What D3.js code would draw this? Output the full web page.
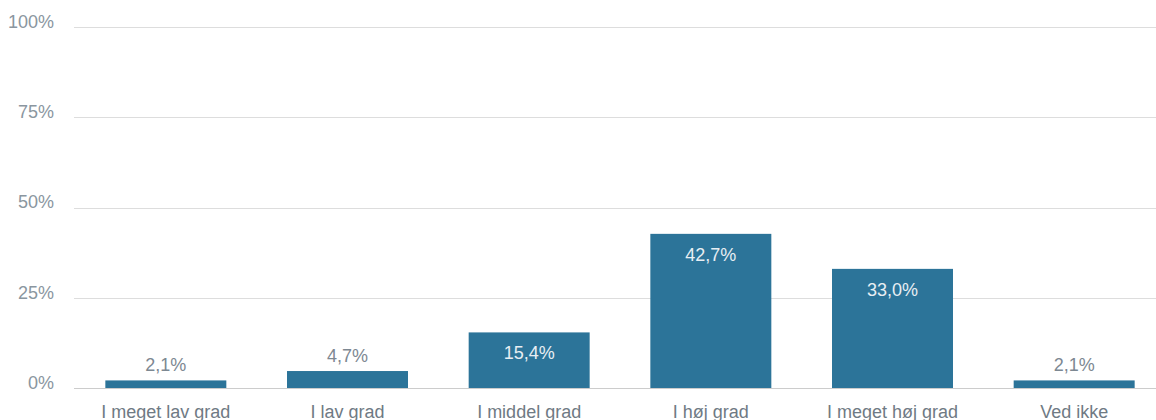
<!DOCTYPE html>
<html>
<head>
<meta charset="utf-8">
<script src="https://cdn.jsdelivr.net/npm/d3@7"></script>
<style>
  body { margin: 0; background: #fff; overflow: hidden; }
  svg { font-family: "Liberation Sans", Arial, sans-serif; }
</style>
</head>
<body>
<svg width="1156" height="420"></svg>
<script>
var width = 1156;
var height = 420;
var margin = {left: 75, right: -9, top: 27, bottom: 32};

// data
var categories = ["I meget lav grad", "I lav grad", "I middel grad", "I høj grad", "I meget høj grad", "Ved ikke"];
var values = [2.1, 4.7, 15.4, 42.7, 33.0, 2.1];
var yTicks = [0, 25, 50, 75, 100];

var svg = d3.select("svg");

var x = d3.scaleBand().domain(categories)
  .range([margin.left, width - margin.right])
  .paddingInner(0.334).paddingOuter(0.167);
var y = d3.scaleLinear().domain([0, 100]).range([height - margin.bottom, margin.top]);

function fmt(v) { return v.toFixed(1).replace(".", ",") + "%"; }

// gridlines
svg.append("g").selectAll("line")
  .data(yTicks)
  .enter().append("line")
  .attr("x1", 74)
  .attr("x2", width)
  .attr("y1", function (d) { return Math.round(y(d)) + 0.5; })
  .attr("y2", function (d) { return Math.round(y(d)) + 0.5; })
  .attr("stroke", function (d) { return d === 0 ? "#ccc" : "#ddd"; })
  .attr("stroke-width", 1);

// y labels
svg.append("g").selectAll("text")
  .data(yTicks)
  .enter().append("text")
  .attr("x", 54)
  .attr("y", function (d) { return y(d); })
  .attr("dy", "0.05em")
  .attr("text-anchor", "end")
  .attr("fill", "#8a96a0")
  .style("font-size", "18px")
  .text(function (d) { return d + "%"; });

// bars
svg.append("g").selectAll("rect")
  .data(values)
  .enter().append("rect")
  .attr("x", function (d, i) { return x(categories[i]); })
  .attr("width", x.bandwidth())
  .attr("y", function (d) { return y(d); })
  .attr("height", function (d) { return y(0) - y(d); })
  .attr("fill", "#2c7499");

// value labels
svg.append("g").selectAll("text")
  .data(values)
  .enter().append("text")
  .attr("x", function (d, i) { return x(categories[i]) + x.bandwidth() / 2; })
  .attr("y", function (d) { return d > 10 ? y(d) + 27 : y(d) - 9; })
  .attr("text-anchor", "middle")
  .attr("fill", function (d) { return d > 10 ? "#e8eef3" : "#7d8892"; })
  .style("font-size", "18px")
  .text(fmt);

// category labels
svg.append("g").selectAll("text")
  .data(categories)
  .enter().append("text")
  .attr("x", function (d) { return x(d) + x.bandwidth() / 2; })
  .attr("y", y(0) + 30)
  .attr("text-anchor", "middle")
  .attr("fill", "#6f7a84")
  .style("font-size", "18px")
  .text(function (d) { return d; });
</script>
</body>
</html>
